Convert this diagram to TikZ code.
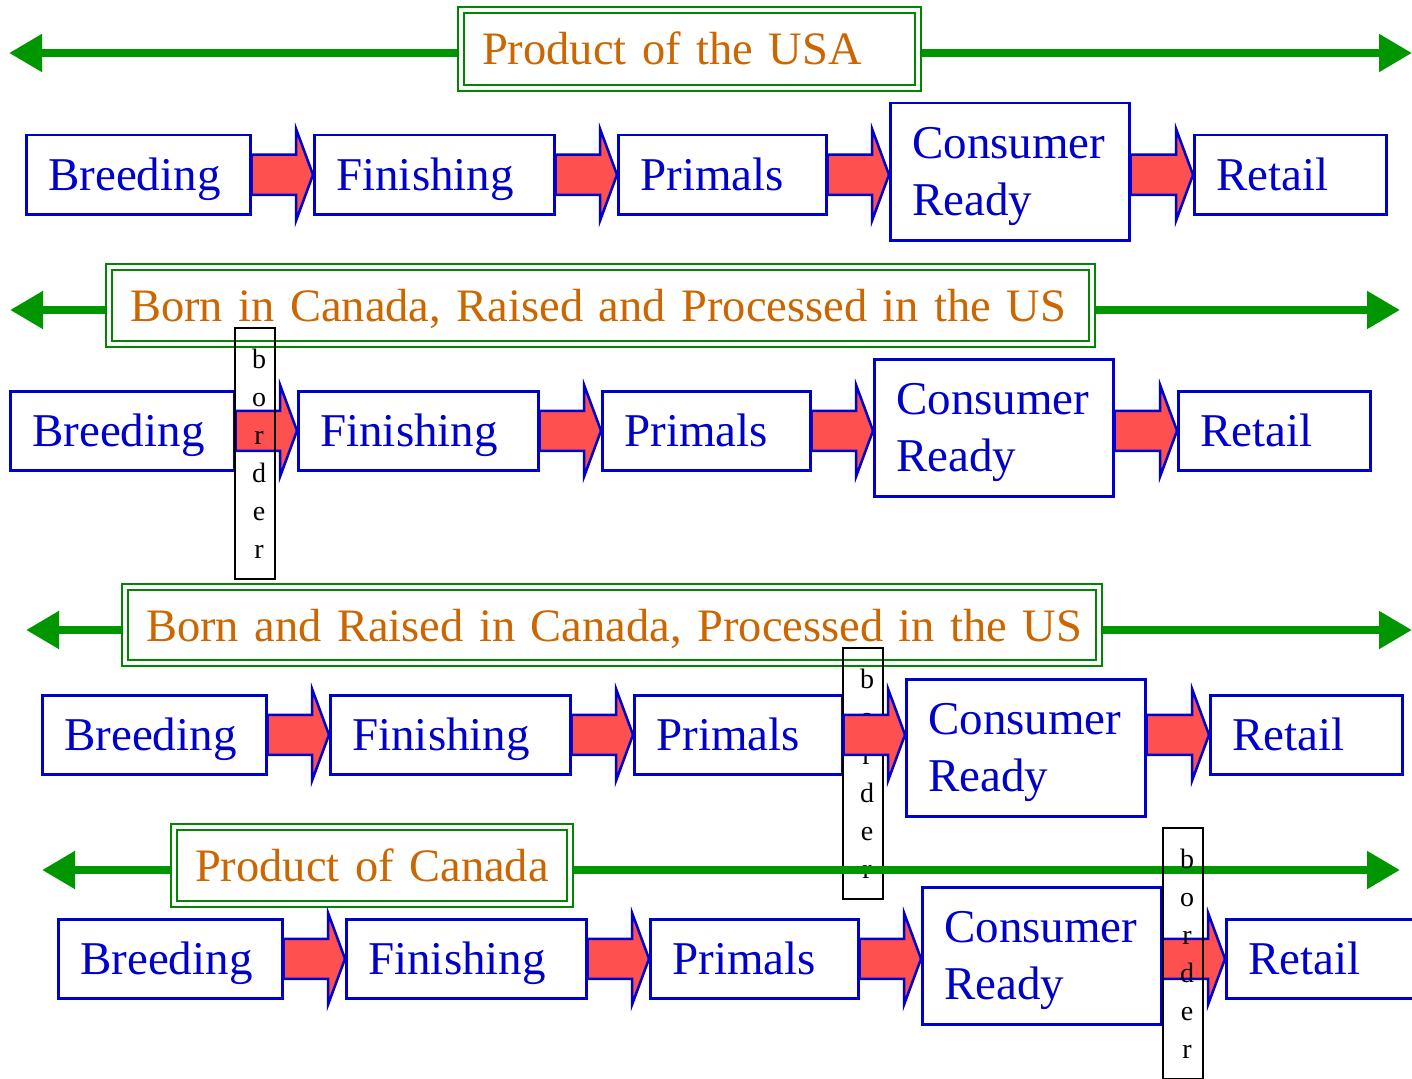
\documentclass[tikz,border=0pt]{standalone}
\usepackage{fontspec}
\setmainfont{Liberation Serif}
\usetikzlibrary{arrows.meta,calc}
\definecolor{bblue}{RGB}{0,0,204}
\definecolor{bred}{RGB}{255,80,80}
\definecolor{torange}{RGB}{204,102,0}
\definecolor{agreen}{RGB}{0,150,0}
\definecolor{tgreen}{RGB}{0,135,0}
\tikzset{
 box/.style={draw=bblue, line width=2.5pt, fill=white, text=bblue, font=\fontsize{47}{57}\selectfont, inner xsep=22pt, inner ysep=0pt, minimum height=79pt, text height=40pt, text depth=9pt, align=left, anchor=north west},
 crbox/.style={box, minimum height=137pt, text depth=66pt},
 titlebox/.style={draw=tgreen, double=white, double distance=4pt, line width=2pt, fill=white, text=torange, font=\fontsize{46.5}{57}\selectfont, inner xsep=21pt, inner ysep=0pt, text height=38pt, text depth=6pt, align=left, anchor=north west},
 garrow/.style={agreen, line width=8pt, {Triangle[length=33pt,width=36pt]}-{Triangle[length=33pt,width=36pt]}},
 barrowst/.style={fill=bred, draw=bblue, line width=2.5pt, line join=miter},
 borderbox/.style={draw=black, line width=2pt, inner sep=0pt, minimum width=40pt, minimum height=251pt, font=\fontsize{28}{38}\selectfont, align=center, anchor=north west},
}
\newcommand\barrow[2]{\draw[barrowst] let \p1=#1, \p2=#2 in (\x1,\y2+20pt) -- (\x2-17pt,\y2+20pt) -- (\x2-17pt,\y2+46pt) -- (\x2,\y2) -- (\x2-17pt,\y2-46pt) -- (\x2-17pt,\y2-20pt) -- (\x1,\y2-20pt) -- cycle;}
\newcommand\mkrow[4]{%
 \node[box, text width=180pt] (#1b) at (#2,#3) {Breeding};
 \node[box, text width=196pt] (#1f) at ({#2+288},#3) {Finishing};
 \node[box, text width=164pt] (#1p) at ({#2+592},#3) {Primals};
 \node[crbox, text width=195pt] (#1c) at ({#2+864},#4) {Consumer\\Ready};
 \node[box, text width=148pt] (#1r) at ({#2+1168},#3) {Retail};
}
\newcommand\mkarrows[1]{%
 \barrow{(#1b.east)}{(#1f.west)}
 \barrow{(#1f.east)}{(#1p.west)}
 \barrow{(#1p.east)}{(#1c.west |- #1p.east)}
 \barrow{(#1c.east)}{(#1r.west)}
}
\newcommand\bl[1]{\hspace*{8pt}#1}
\newcommand\bordertext{\bl{b}\\\bl{o}\\\bl{r}\\\bl{d}\\\bl{e}\\\bl{r}}
\begin{document}
\begin{tikzpicture}[x=1pt,y=-1pt]
\useasboundingbox (0,0) rectangle (1412,1078);
% row 1
\coordinate (g1l) at (9,53); \coordinate (g1r) at (1412,53);
\draw[garrow] (g1l) -- (g1r);
\node[titlebox, minimum width=457pt, minimum height=78pt, text width=415pt] (t1) at (460,9) {\mbox{Product of the USA}};
\mkrow{a}{25}{134}{102}
\mkarrows{a}
% row 2
\coordinate (g2l) at (10,310); \coordinate (g2r) at (1400,310);
\draw[garrow] (g2l) -- (g2r);
\node[titlebox, minimum width=983pt, minimum height=77pt, text width=941pt] (t2) at (108,266) {\mbox{Born in Canada, Raised and Processed in the US}};
\mkrow{b}{9}{390}{358}
\mkarrows{b}
\node[borderbox] (d2) at (234,327) {\bordertext};
% row 3
\coordinate (g3l) at (26,630); \coordinate (g3r) at (1412,630);
\draw[garrow] (g3l) -- (g3r);
\node[titlebox, minimum width=974pt, minimum height=76pt, text width=932pt] (t3) at (124,586) {\mbox{Born and Raised in Canada, Processed in the US}};
\mkrow{c}{41}{694}{678}
\node[borderbox] (d3) at (842,647) {\bordertext};
\mkarrows{c}
% row 4
\coordinate (g4l) at (42,870); \coordinate (g4r) at (1400,870);
\draw[garrow] (g4l) -- (g4r);
\node[titlebox, minimum width=396pt, minimum height=77pt, text width=354pt] (t4) at (173,826) {\mbox{Product of Canada}};
\mkrow{e}{57}{918}{886}
\mkarrows{e}
\node[borderbox] (d4) at (1162,827) {\bordertext};
\end{tikzpicture}
\end{document}
